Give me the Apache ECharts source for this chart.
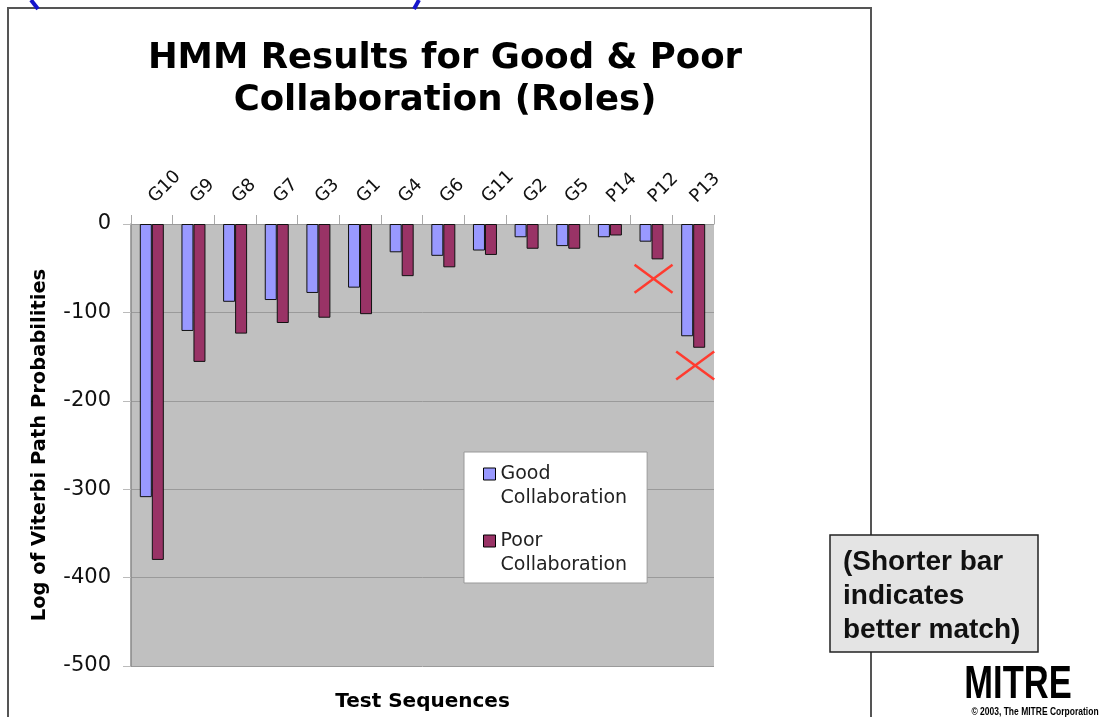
<!DOCTYPE html>
<html><head><meta charset="utf-8">
<script src="https://cdn.jsdelivr.net/npm/echarts@6/dist/echarts.min.js"></script>
<style>html,body{margin:0;padding:0;background:#fff}#c{width:1115px;height:717px}</style>
</head><body><div id="c"></div>
<script>
const categories = ['G10','G9','G8','G7','G3','G1','G4','G6','G11','G2','G5','P14','P12','P13'];
const goodValues = [-309,-121,-88,-86,-78,-72,-32,-36,-30,-15,-25,-15,-20,-127];
const poorValues = [-380,-156,-124,-112,-106,-102,-59,-49,-35,-28,-28,-13,-40,-140];
const seriesNames = ['Good Collaboration','Poor Collaboration'];
const crossMarks = [['P12',-62],['P13',-160]];
const yMin = -500, yMax = 0, yStep = 100;
const titleText = 'HMM Results for Good & Poor\nCollaboration (Roles)';
const noteText = '(Shorter bar\nindicates\nbetter match)';

const FONT = '"DejaVu Sans", Verdana, sans-serif';
const chart = echarts.init(document.getElementById('c'));
chart.setOption({
  animation:false,
  backgroundColor:'#fff',
  title:{text:titleText,left:440,top:33,textAlign:'center',
    textStyle:{fontFamily:FONT,fontWeight:'bold',fontSize:35.5,lineHeight:42,color:'#000'}},
  grid:{left:131,top:224,right:401,bottom:51,show:true,backgroundColor:'#c0c0c0',borderWidth:0,
    outerBoundsMode:'none',containLabel:false},
  legend:{data:seriesNames,orient:'vertical',left:464,top:452,
    backgroundColor:'#fff',borderColor:'#999',borderWidth:1,
    padding:[10,20,6,19],itemGap:19,itemWidth:12,itemHeight:36,
    icon:'path://M0,0L10,0L10,10L0,10ZM0,30',
    formatter:n=>n.replace(' ','\n'),
    itemStyle:{borderColor:'#000',borderWidth:1},
    textStyle:{fontFamily:FONT,fontSize:19,lineHeight:24,color:'#222'}},
  xAxis:[{type:'category',data:categories,position:'top',
    axisLine:{lineStyle:{color:'#999'}},
    axisTick:{show:true,length:9,lineStyle:{color:'#aaa'}},
    axisLabel:{rotate:45,margin:24,fontFamily:FONT,fontSize:18,color:'#111'}},
   {type:'category',data:categories,position:'bottom',
    axisLine:{show:false},axisTick:{show:false},axisLabel:{show:false},
    name:'Test Sequences',nameLocation:'middle',nameGap:26,
    nameTextStyle:{fontFamily:FONT,fontWeight:'bold',fontSize:20,color:'#000'}}],
  yAxis:{type:'value',min:yMin,max:yMax,interval:yStep,
    name:'Log of Viterbi Path Probabilities',nameLocation:'middle',nameGap:81,
    nameTextStyle:{fontFamily:FONT,fontWeight:'bold',fontSize:19.5,color:'#000'},
    axisLine:{show:true,lineStyle:{color:'#888',width:1.5}},
    axisTick:{show:true,length:8,lineStyle:{color:'#bbb'}},
    axisLabel:{margin:20,fontFamily:FONT,fontSize:21,color:'#111'},
    splitLine:{lineStyle:{color:'#9a9a9a',width:1}}},
  series:[
    {name:seriesNames[0],type:'bar',data:goodValues,barWidth:12,barGap:'0%',
      itemStyle:{color:'#9999ff',borderColor:'#111',borderWidth:1}},
    {name:seriesNames[1],type:'bar',data:poorValues,barWidth:12,barGap:'0%',
      itemStyle:{color:'#993366',borderColor:'#111',borderWidth:1}},
    {name:'mismatch',type:'custom',data:crossMarks,clip:false,z:5,
      encode:{x:0,y:1},
      renderItem:(params,api)=>{
        const p = api.coord([api.value(0),api.value(1)]);
        const st = {stroke:'#ff3b2f',lineWidth:2.5};
        return {type:'group',children:[
          {type:'line',shape:{x1:p[0]-17,y1:p[1]-14,x2:p[0]+21,y2:p[1]+14},style:st},
          {type:'line',shape:{x1:p[0]-17,y1:p[1]+14,x2:p[0]+21,y2:p[1]-14},style:st}]};
      }}
  ],
  graphic:[
    {type:'polyline',z:0,shape:{points:[[8,717],[8,8],[871,8],[871,717]]},style:{stroke:'#555',lineWidth:2,fill:null}},
    {type:'line',shape:{x1:31,y1:0,x2:38,y2:9},style:{stroke:'#1515cc',lineWidth:4}},
    {type:'line',shape:{x1:419,y1:0,x2:414,y2:9},style:{stroke:'#1515cc',lineWidth:4}},
    {type:'rect',z:10,shape:{x:830,y:535,width:208,height:117},style:{fill:'#e4e4e4',stroke:'#222',lineWidth:1.5}},
    {type:'text',z:11,x:843,y:545,style:{text:noteText,font:'bold 28px "Liberation Sans", Arial, sans-serif',lineHeight:34,fill:'#111'}},
    {type:'text',z:11,x:1018,y:685,scaleX:0.75,style:{text:'MITRE',align:'center',verticalAlign:'middle',font:'bold 46px "Liberation Sans", Arial, sans-serif',fill:'#000'}},
    {type:'text',z:11,x:1035,y:712,scaleX:0.85,style:{text:'\u00a9 2003, The MITRE Corporation',align:'center',verticalAlign:'middle',font:'bold 10px "Liberation Sans", Arial, sans-serif',fill:'#000'}}
  ]
});
</script></body></html>
